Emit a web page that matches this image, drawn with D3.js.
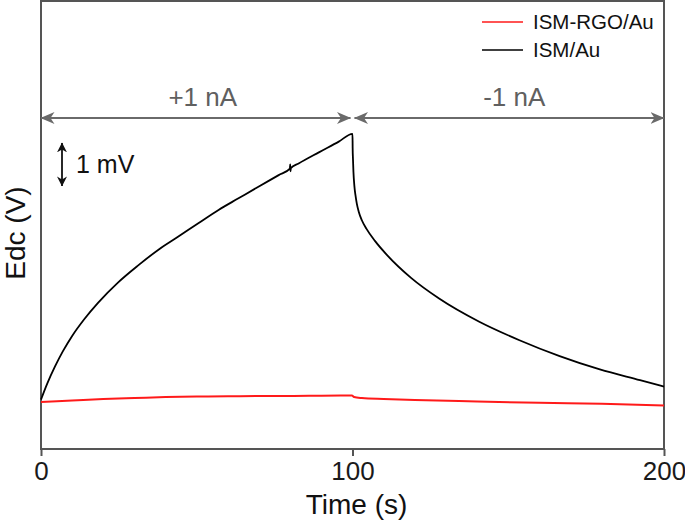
<!DOCTYPE html>
<html>
<head>
<meta charset="utf-8">
<script src="https://cdn.jsdelivr.net/npm/d3@7"></script>
<style>
  html, body { margin: 0; padding: 0; background: #fff; }
  svg { display: block; font-family: "Liberation Sans", Arial, sans-serif; }
</style>
</head>
<body>
<svg id="chart" width="685" height="524"></svg>
<script>
// ---------------- data ----------------
const xTicks = [0, 100, 200];
const seriesNames = ["ISM-RGO/Au", "ISM/Au"];
const seriesColors = ["#ff1a1a", "#000000"];

// ISM/Au (black), time in s, potential in mV (arbitrary offset)
const blackTime  = [0, 2, 4.5, 7, 10, 14, 18.3, 24.7, 31.2, 37.6, 44.1, 50.5, 57.0, 63.4, 69.8, 76.3, 79.9, 80.0, 80.1, 80.2, 82.7, 89.2, 95.6, 100.0,
                    100.05, 100.15, 100.3, 100.6, 101.0, 101.4, 102.0, 103.0, 104.5, 107.2, 111.1, 118.8, 127.8, 140.7, 153.6, 166.5, 179.4, 192.3, 200];
const blackValue = [1.15, 1.52, 1.92, 2.27, 2.63, 3.03, 3.40, 3.87, 4.27, 4.63, 4.94, 5.25, 5.56, 5.83, 6.10, 6.37, 6.52, 6.62, 6.46, 6.53, 6.64, 6.90, 7.15, 7.33,
                    7.00, 6.75, 6.45, 6.12, 5.88, 5.70, 5.52, 5.32, 5.12, 4.84, 4.51, 3.98, 3.50, 2.96, 2.53, 2.16, 1.85, 1.60, 1.45];

// ISM-RGO/Au (red)
const redTime  = [0, 10, 20, 30, 40, 50, 60, 70, 80, 90, 99.8, 100.5, 103, 110, 120, 140, 160, 180, 200];
const redValue = [1.093, 1.128, 1.163, 1.186, 1.209, 1.221, 1.226, 1.233, 1.233, 1.240, 1.244, 1.209, 1.186, 1.163, 1.140, 1.105, 1.074, 1.051, 1.012];

// current steps
const stepStart = [0, 100];
const stepEnd   = [100, 200];
const stepLabel = ["+1 nA", "-1 nA"];

// scale bar
const scaleBarFrom = 6.12;   // mV
const scaleBarSize = 1;      // mV
const scaleBarLabel = "1 mV";

// ---------------- chart ----------------
const svg = d3.select("#chart");
const x = d3.scaleLinear().domain([0, 200]).range([41, 664]);
const y = d3.scaleLinear().domain([0, 10.42]).range([449, 1]);
const axisColor = "#555555";

// arrow marker
const defs = svg.append("defs");
defs.append("marker")
  .attr("id", "arrow")
  .attr("markerUnits", "userSpaceOnUse")
  .attr("viewBox", "0 0 14 12")
  .attr("markerWidth", 14).attr("markerHeight", 12)
  .attr("refX", 13.5).attr("refY", 6)
  .attr("orient", "auto-start-reverse")
  .append("path")
  .attr("d", "M0,0 L14,6 L0,12 L4,6 Z")
  .attr("fill", "#6a6a6a");

// frame
svg.append("rect")
  .attr("x", x(0)).attr("y", y(10.42))
  .attr("width", x(200) - x(0)).attr("height", y(0) - y(10.42))
  .attr("fill", "none").attr("stroke", axisColor).attr("stroke-width", 2);

// x axis
const xAxis = svg.append("g")
  .attr("transform", `translate(0,${y(0)})`)
  .call(d3.axisBottom(x).tickValues(xTicks).tickFormat(d3.format("d")).tickSize(7).tickPadding(6));
xAxis.select(".domain").remove();
xAxis.selectAll("line").attr("stroke", axisColor).attr("stroke-width", 2);
xAxis.selectAll("text").attr("font-size", 26).attr("fill", "#1a1a1a")
  .attr("font-family", "Liberation Sans, Arial, sans-serif");

// axis titles
svg.append("text")
  .attr("x", (x(0) + x(200)) / 2 + 4).attr("y", 514)
  .attr("text-anchor", "middle").attr("font-size", 28).attr("fill", "#111")
  .text("Time (s)");
svg.append("text")
  .attr("transform", `translate(25,${(y(0) + y(10.42)) / 2 + 8}) rotate(-90)`)
  .attr("text-anchor", "middle").attr("font-size", 28).attr("fill", "#111")
  .text("Edc (V)");

// lines
const line = d3.line().x(d => x(d[0])).y(d => y(d[1])).curve(d3.curveMonotoneX);
const redData = redTime.map((t, i) => [t, redValue[i]]);
const blackData = blackTime.map((t, i) => [t, blackValue[i]]);

svg.append("path").datum(redData)
  .attr("d", line)
  .attr("fill", "none").attr("stroke", seriesColors[0]).attr("stroke-width", 2);
svg.append("path").datum(blackData)
  .attr("d", line)
  .attr("fill", "none").attr("stroke", seriesColors[1]).attr("stroke-width", 1.8);

// current step arrows
const arrowY = 118;
const steps = stepStart.map((s, i) => ({ s, e: stepEnd[i], label: stepLabel[i] }));
const sg = svg.append("g");
sg.selectAll("line").data(steps).enter().append("line")
  .attr("x1", d => x(d.s) + (d.s === 0 ? 0 : 2))
  .attr("x2", d => x(d.e) - (d.e === 200 ? 0 : 2))
  .attr("y1", arrowY).attr("y2", arrowY)
  .attr("stroke", "#6a6a6a").attr("stroke-width", 2.2)
  .attr("marker-start", "url(#arrow)").attr("marker-end", "url(#arrow)");
sg.selectAll("text").data(steps).enter().append("text")
  .attr("x", d => (x(d.s) + x(d.e)) / 2 + 6)
  .attr("y", 106)
  .attr("text-anchor", "middle").attr("font-size", 26).attr("fill", "#606060")
  .text(d => d.label);

// scale bar
defs.append("marker")
  .attr("id", "arrowBlack")
  .attr("markerUnits", "userSpaceOnUse")
  .attr("viewBox", "0 0 10 10")
  .attr("markerWidth", 10).attr("markerHeight", 10)
  .attr("refX", 9.5).attr("refY", 5)
  .attr("orient", "auto-start-reverse")
  .append("path")
  .attr("d", "M0,0 L10,5 L0,10 L3,5 Z")
  .attr("fill", "#111");
svg.append("line")
  .attr("x1", 62).attr("x2", 62)
  .attr("y1", y(scaleBarFrom)).attr("y2", y(scaleBarFrom + scaleBarSize))
  .attr("stroke", "#111").attr("stroke-width", 1.8)
  .attr("marker-start", "url(#arrowBlack)").attr("marker-end", "url(#arrowBlack)");
svg.append("text")
  .attr("x", 76).attr("y", y(scaleBarFrom + scaleBarSize / 2) + 9)
  .attr("font-size", 25).attr("fill", "#111")
  .text(scaleBarLabel);

// legend
const lg = svg.append("g");
seriesNames.forEach((name, i) => {
  const ly = 22 + i * 28;
  lg.append("line").attr("x1", 482).attr("x2", 523).attr("y1", ly).attr("y2", ly)
    .attr("stroke", seriesColors[i]).attr("stroke-width", 1.5);
  lg.append("text").attr("x", 533).attr("y", ly + 7)
    .attr("font-size", 20.5).attr("fill", "#111").text(name);
});
</script>
</body>
</html>
